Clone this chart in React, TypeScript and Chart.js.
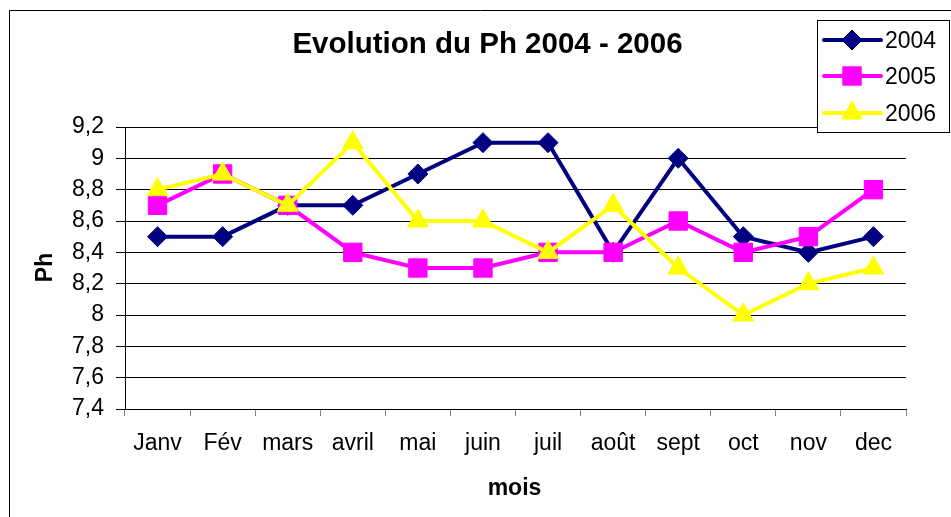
import React, { useEffect, useRef } from "react";
import { Chart, registerables } from "chart.js";

Chart.register(...registerables);

const months = ["Janv", "Fév", "mars", "avril", "mai", "juin", "juil", "août", "sept", "oct", "nov", "dec"];
const ph2004 = [8.5, 8.5, 8.7, 8.7, 8.9, 9.1, 9.1, 8.4, 9.0, 8.5, 8.4, 8.5];
const ph2005 = [8.7, 8.9, 8.7, 8.4, 8.3, 8.3, 8.4, 8.4, 8.6, 8.4, 8.5, 8.8];
const ph2006 = [8.8, 8.9, 8.7, 9.1, 8.6, 8.6, 8.4, 8.7, 8.3, 8.0, 8.2, 8.3];
const seriesNames = ["2004", "2005", "2006"];
const titleText = "Evolution du Ph 2004 - 2006";
const xTitle = "mois";
const yTitle = "Ph";
const yMin = 7.4;
const yMax = 9.2;
const yStep = 0.2;

const FONT = "'Liberation Sans', Arial, sans-serif";
const colors = ["#000080", "#FF00FF", "#FFFF00"];
const styles = ["rectRot", "rect", "triangle"];
const radii = [10, 13, 12];

const fmt = (v: number) => String(Number(v.toFixed(1))).replace(".", ",");

function drawMarker(ctx: CanvasRenderingContext2D, style: string, r: number, x: number, y: number) {
  ctx.beginPath();
  if (style === "rectRot") {
    ctx.moveTo(x, y - r);
    ctx.lineTo(x + r, y);
    ctx.lineTo(x, y + r);
    ctx.lineTo(x - r, y);
  } else if (style === "rect") {
    const s = r * Math.SQRT1_2;
    ctx.rect(x - s, y - s, 2 * s, 2 * s);
  } else {
    const a = -Math.PI / 2;
    for (let k = 0; k < 3; k++) {
      const ang = a + (k * 2 * Math.PI) / 3;
      const px = x + Math.cos(ang) * r;
      const py = y + Math.sin(ang) * r;
      if (k === 0) ctx.moveTo(px, py);
      else ctx.lineTo(px, py);
    }
  }
  ctx.closePath();
  ctx.fill();
  ctx.stroke();
}

const decorPlugin = {
  id: "decor",
  afterDraw(chart: any) {
    const ctx = chart.ctx as CanvasRenderingContext2D;
    ctx.save();
    // outer border
    ctx.strokeStyle = "#000";
    ctx.lineWidth = 1;
    ctx.beginPath();
    ctx.moveTo(9.5, 517);
    ctx.lineTo(9.5, 10.5);
    ctx.lineTo(951, 10.5);
    ctx.stroke();

    // title
    ctx.fillStyle = "#000";
    ctx.font = `bold 29.5px ${FONT}`;
    ctx.textAlign = "center";
    ctx.textBaseline = "alphabetic";
    ctx.fillText(titleText, 487.5, 53);

    // x title
    ctx.font = `bold 23px ${FONT}`;
    ctx.fillText(xTitle, 514.5, 495);

    // y title
    ctx.save();
    ctx.translate(52, 267.5);
    ctx.rotate(-Math.PI / 2);
    ctx.fillText(yTitle, 0, 0);
    ctx.restore();

    // legend
    ctx.fillStyle = "#fff";
    ctx.fillRect(817, 20, 133, 113);
    ctx.strokeStyle = "#000";
    ctx.lineWidth = 1;
    ctx.strokeRect(817.5, 20.5, 132, 112);
    const rows = [40, 76, 113];
    chart.data.datasets.forEach((ds: any, i: number) => {
      const y = rows[i];
      ctx.strokeStyle = colors[i];
      ctx.lineWidth = 4;
      ctx.lineCap = "round";
      ctx.beginPath();
      ctx.moveTo(824, y);
      ctx.lineTo(881, y);
      ctx.stroke();
      ctx.fillStyle = colors[i];
      ctx.strokeStyle = colors[i];
      ctx.lineWidth = 1;
      ctx.lineCap = "butt";
      drawMarker(ctx, styles[i], radii[i], 852, y);
      ctx.fillStyle = "#000";
      ctx.font = `23px ${FONT}`;
      ctx.textAlign = "left";
      ctx.textBaseline = "alphabetic";
      ctx.fillText(ds.label, 885, y + 8);
    });
    ctx.restore();
  },
};

export default function App() {
  const ref = useRef<HTMLCanvasElement | null>(null);
  useEffect(() => {
    document.body.style.margin = "0";
    const canvas = ref.current!;
    const data = [ph2004, ph2005, ph2006];
    const chart = new Chart(canvas, {
      type: "line",
      data: {
        labels: months,
        datasets: data.map((d, i) => ({
          label: seriesNames[i],
          data: d,
          borderColor: colors[i],
          backgroundColor: colors[i],
          borderWidth: 4,
          pointStyle: styles[i] as any,
          pointRadius: radii[i],
          pointBorderWidth: 1,
          pointBorderColor: colors[i],
          pointBackgroundColor: colors[i],
          tension: 0,
          fill: false,
          order: 3 - i,
        })),
      },
      options: {
        responsive: false,
        animation: false,
        devicePixelRatio: 1,
        layout: { padding: { top: 127, right: 45, bottom: 0, left: 0 } },
        plugins: {
          legend: { display: false },
          title: { display: false },
          tooltip: { enabled: false },
        },
        scales: {
          x: {
            type: "category",
            offset: true,
            grid: {
              offset: true,
              drawOnChartArea: false,
              drawTicks: true,
              tickLength: 7,
              color: "#808080",
            },
            border: { color: "#000", width: 1 },
            ticks: {
              color: "#000",
              font: { family: FONT, size: 23 },
              padding: 14,
              maxRotation: 0,
              autoSkip: false,
            },
            afterFit: (s: any) => {
              s.height = 108;
            },
          },
          y: {
            min: yMin,
            max: yMax,
            grid: {
              color: "#000",
              lineWidth: 1,
              drawTicks: true,
              tickLength: 9,
            },
            border: { color: "#000", width: 1 },
            ticks: {
              stepSize: yStep,
              color: "#000",
              font: { family: FONT, size: 23 },
              padding: 12,
              callback: (v: any) => fmt(Number(v)),
            },
            afterFit: (s: any) => {
              s.width = 125;
            },
          },
        },
      },
      plugins: [decorPlugin],
    });
    return () => chart.destroy();
  }, []);
  return <canvas ref={ref} width={951} height={517} style={{ display: "block" }} />;
}
